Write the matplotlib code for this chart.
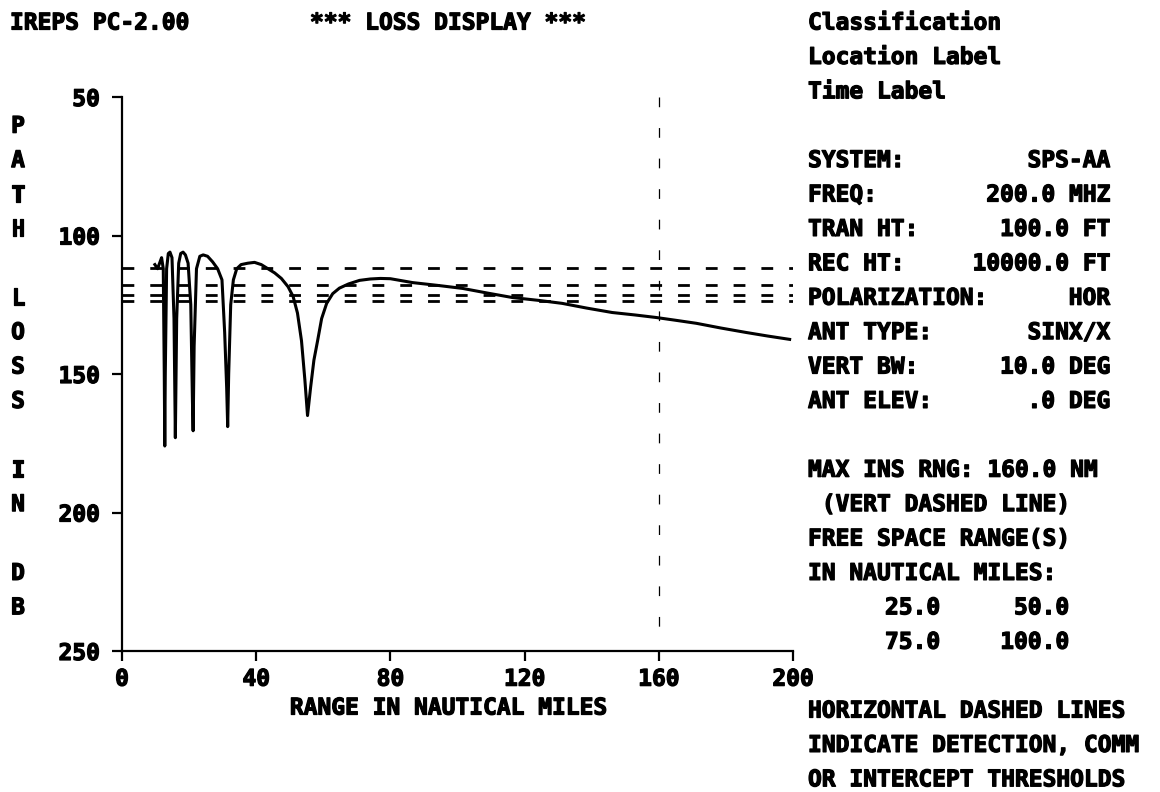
import matplotlib
matplotlib.use("Agg")
import matplotlib.pyplot as plt
import matplotlib.patheffects as pe

# ─────────────────────────────────────────────
#  Data read off the IREPS loss display
# ─────────────────────────────────────────────

range_nm = [
    9.8, 10.6, 11.2, 11.8, 12.3, 12.6, 12.75, 12.9, 13.3, 13.8,
    14.3, 14.9, 15.5, 15.9, 16.3, 16.9, 17.5, 18.2, 18.9, 19.7,
    20.5, 21.0, 21.2, 21.5, 22.2, 23.2, 24.2, 25.5, 27.0, 28.5,
    29.8, 30.6, 31.2, 31.5, 31.8, 32.4, 33.2, 34.2, 35.5, 37.5,
    39.5, 41.5, 43.5, 45.5, 47.5, 49.5, 51.0, 52.3, 53.5, 54.5,
    55.3, 56.2, 57.2, 58.3, 59.5, 61.0, 62.8, 64.8, 67.5, 70.8,
    74.0, 77.0, 80.0, 86.6, 94.0, 101.5, 109.0, 116.4, 124.0, 131.2,
    138.5, 146.1, 153.0, 159.2, 165.0, 171.2, 178.5, 186.0, 192.5, 199.0,
]
path_loss_db = [
    110.5, 112.0, 110.0, 108.0, 112.0, 150.0, 176.0, 150.0, 112.0, 106.5,
    106.0, 108.0, 130.0, 173.0, 130.0, 110.0, 106.5, 106.0, 107.0, 110.0,
    125.0, 160.0, 170.5, 140.0, 112.0, 107.5, 107.0, 107.5, 109.5, 112.0,
    116.0, 135.0, 155.0, 169.0, 150.0, 125.0, 116.0, 112.0, 110.5, 110.0,
    109.7, 110.5, 112.0, 113.5, 115.5, 118.5, 122.0, 128.0, 138.0, 152.0,
    165.0, 155.0, 145.0, 138.0, 130.0, 124.5, 121.0, 119.0, 117.5, 116.2,
    115.7, 115.5, 115.6, 117.0, 118.0, 119.1, 120.8, 122.4, 123.4, 124.5,
    126.2, 127.8, 128.7, 129.6, 130.6, 131.7, 133.4, 135.0, 136.3, 137.5,
]

# free-space loss thresholds (dB) for the listed free space ranges
threshold_db = [111.8, 117.8, 121.4, 123.8]
max_ins_rng = 160.0

x_ticks = [0, 40, 80, 120, 160, 200]
y_ticks = [50, 100, 150, 200, 250]

header_lines = ["Classification", "Location Label", "Time Label"]
param_labels = ["SYSTEM:", "FREQ:", "TRAN HT:", "REC HT:",
                "POLARIZATION:", "ANT TYPE:", "VERT BW:", "ANT ELEV:"]
param_values = ["SPS-AA", "200.0 MHZ", "100.0 FT", "10000.0 FT",
                "HOR", "SINX/X", "10.0 DEG", ".0 DEG"]
range_lines = ["MAX INS RNG: 160.0 NM", " (VERT DASHED LINE)",
               "FREE SPACE RANGE(S)", "IN NAUTICAL MILES:"]
free_space_col1 = ["25.0", "75.0"]
free_space_col2 = ["50.0", "100.0"]
note_lines = ["HORIZONTAL DASHED LINES",
              "INDICATE DETECTION, COMM",
              "OR INTERCEPT THRESHOLDS"]
ylabel_text = "PATH LOSS IN DB"

# ─────────────────────────────────────────────
#  Figure
# ─────────────────────────────────────────────

W, H = 1160, 792
plt.rcParams["font.family"] = "DejaVu Sans Mono"
plt.rcParams["font.weight"] = "bold"
plt.rcParams["lines.scale_dashes"] = False
FS = 16.5
# thicken the glyphs a little, like the old bitmap screen font
BOLD = [pe.withStroke(linewidth=0.9, foreground="black")]

fig = plt.figure(figsize=(W / 100, H / 100), dpi=100)
fig.patch.set_facecolor("white")


def fx(px):
    return px / W


def fy(py):
    return 1 - py / H


def row_y(k):
    # text rows sit on a fixed character grid
    return fy(23 + 34.4 * k)


ax = fig.add_axes([fx(122), fy(651), fx(793) - fx(122), fy(97) - fy(651)])
ax.set_xlim(0, 200)
ax.set_ylim(250, 50)
for side in ("top", "right"):
    ax.spines[side].set_visible(False)
for side in ("left", "bottom"):
    ax.spines[side].set_linewidth(1.6)
    ax.spines[side].set_color("black")

ax.set_xticks(x_ticks)
ax.set_yticks(y_ticks)
ax.tick_params(axis="both", direction="out", length=7, width=1.6,
               labelsize=FS, colors="black")
ax.tick_params(axis="x", pad=5)
ax.tick_params(axis="y", pad=9)
for lab in ax.get_xticklabels() + ax.get_yticklabels():
    lab.set_fontweight("bold")
    lab.set_path_effects(BOLD)

# threshold lines
for t in threshold_db:
    ax.axhline(t, color="black", lw=2.0, dashes=(8.5, 11.5))

# max instrumented range
ax.plot([max_ins_rng, max_ins_rng], [50, 248], color="black", lw=0.9,
        dashes=(7, 15))

# loss curve
ax.plot(range_nm, path_loss_db, color="black", lw=2.2)

# ─────────────────────────────────────────────
#  Text
# ─────────────────────────────────────────────

txt = dict(fontsize=FS, fontweight="bold", color="black", va="center",
           path_effects=BOLD)

fig.text(fx(10), row_y(0), "IREPS PC-2.00", ha="left", **txt)
fig.text(fx(310), row_y(0), "*** LOSS DISPLAY ***", ha="left", **txt)

for k, s in enumerate(header_lines):
    fig.text(fx(808), row_y(k), s, ha="left", **txt)

for k, (lab, val) in enumerate(zip(param_labels, param_values)):
    fig.text(fx(808), row_y(4 + k), lab, ha="left", **txt)
    fig.text(fx(1110), row_y(4 + k), val, ha="right", **txt)

for k, s in enumerate(range_lines):
    fig.text(fx(808), row_y(13 + k), s, ha="left", **txt)

for k, (a, b) in enumerate(zip(free_space_col1, free_space_col2)):
    fig.text(fx(940), row_y(17 + k), a, ha="right", **txt)
    fig.text(fx(1069), row_y(17 + k), b, ha="right", **txt)

for k, s in enumerate(note_lines):
    fig.text(fx(808), row_y(20 + k), s, ha="left", **txt)

# vertical y-axis label, one letter per text row
for k, ch in enumerate(ylabel_text):
    if ch != " ":
        fig.text(fx(18), row_y(3 + k), ch, ha="center", **txt)

fig.text(fx(448), fy(708), "RANGE IN NAUTICAL MILES", ha="center", **txt)

fig.savefig("out.png", dpi=100, facecolor="white")
